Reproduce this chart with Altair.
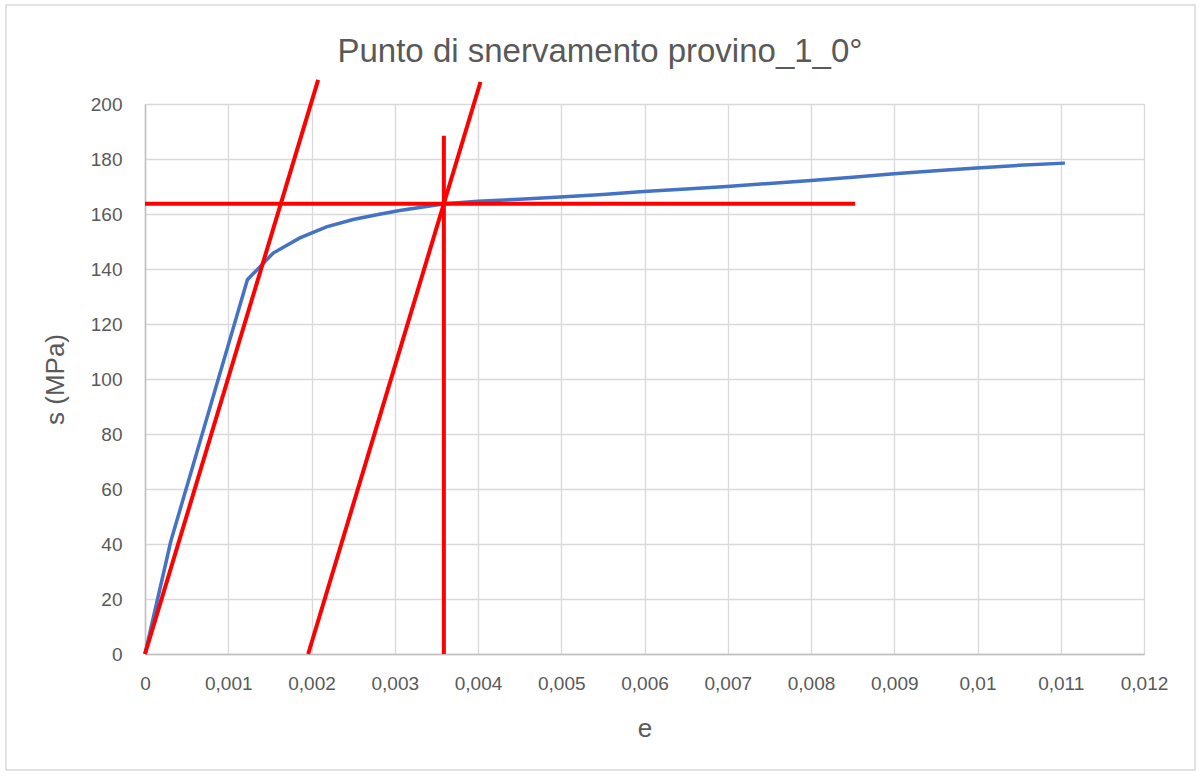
import altair as alt
import pandas as pd

# Blue curve (strain e, stress s in MPa)
curve_e = [0.0, 0.00031, 0.00123, 0.00154, 0.00186, 0.00218, 0.00250, 0.00280, 0.00306, 0.00340, 0.00360,
           0.00400, 0.00450, 0.00499, 0.00550, 0.00599, 0.00650, 0.00699, 0.00750, 0.00800, 0.00850,
           0.00900, 0.00950, 0.00999, 0.01050, 0.01105]
curve_s = [0.0, 41.0, 136.1, 145.8, 151.3, 155.3, 158.0, 159.8, 161.3, 162.8, 163.7,
           164.6, 165.4, 166.2, 167.1, 168.2, 169.1, 170.0, 171.1, 172.2, 173.4,
           174.6, 175.7, 176.7, 177.7, 178.5]

# Red construction lines (each: two end points)
line_names = ["elastic", "elastic", "offset", "offset", "vertical", "vertical", "horizontal", "horizontal"]
line_e = [0.0, 0.00208, 0.00196, 0.00403, 0.00359, 0.00359, 0.0, 0.00853]
line_s = [0.0, 208.8, 0.0, 208.0, 0.0, 188.5, 163.7, 163.7]
line_order = [0, 1, 0, 1, 0, 1, 0, 1]

x_ticks = [0, 0.001, 0.002, 0.003, 0.004, 0.005, 0.006, 0.007, 0.008, 0.009, 0.01, 0.011, 0.012]
y_ticks = [0, 20, 40, 60, 80, 100, 120, 140, 160, 180, 200]

chart_title = ["Punto di snervamento provino_1_0°"]

FONT = "Liberation Sans"
TXT = "#595959"

curve_df = pd.DataFrame({"e": curve_e, "s": curve_s, "i": list(range(len(curve_e)))})
lines_df = pd.DataFrame({"line": line_names, "e": line_e, "s": line_s, "o": line_order})

xscale = alt.Scale(domain=[0, 0.012], nice=False, zero=False)
yscale = alt.Scale(domain=[0, 200], nice=False)

xaxis = alt.Axis(values=x_ticks, title="e",
                 labelExpr="replace(format(datum.value, '.3~f'), '.', ',')",
                 grid=True, gridColor="#D9D9D9", gridWidth=1.3,
                 domainColor="#BFBFBF", domainWidth=1.5, ticks=False,
                 labelFlush=False, labelOverlap=False,
                 labelFont=FONT, labelFontSize=19, labelColor=TXT, labelPadding=20,
                 titleFont=FONT, titleFontSize=26, titleFontWeight="normal", titleColor=TXT,
                 titlePadding=22)
yaxis = alt.Axis(values=y_ticks, title="s (MPa)",
                 grid=True, gridColor="#D9D9D9", gridWidth=1.3,
                 domainColor="#BFBFBF", domainWidth=1.5, ticks=False,
                 labelFlush=False, labelOverlap=False,
                 labelFont=FONT, labelFontSize=19, labelColor=TXT, labelPadding=23,
                 titleFont=FONT, titleFontSize=26, titleFontWeight="normal", titleColor=TXT,
                 titlePadding=22)

frame = alt.Chart(pd.DataFrame({"a": [0]})).mark_rect(
    fill=None, stroke="#D9D9D9", strokeWidth=1.5, clip=False
).encode(x=alt.value(-139), x2=alt.value(1050), y=alt.value(-99), y2=alt.value(666))

title_mark = alt.Chart(pd.DataFrame({"t": chart_title})).mark_text(
    font=FONT, fontSize=33, color=TXT, align="center", baseline="alphabetic", clip=False
).encode(text="t:N", x=alt.value(455), y=alt.value(-42))

curve = alt.Chart(curve_df).mark_line(color="#4472C4", strokeWidth=3.5, clip=False).encode(
    x=alt.X("e:Q", scale=xscale, axis=xaxis),
    y=alt.Y("s:Q", scale=yscale, axis=yaxis),
    order="i:Q",
)

red = alt.Chart(lines_df).mark_line(color="#FF0000", strokeWidth=4, clip=False).encode(
    x=alt.X("e:Q", scale=xscale),
    y=alt.Y("s:Q", scale=yscale),
    detail="line:N",
    order="o:Q",
)

chart = alt.layer(frame, title_mark, curve, red).properties(
    width=999, height=550,
    autosize=alt.AutoSizeParams(type="none"),
    padding={"left": 145, "top": 104, "right": 56, "bottom": 122},
).configure_view(stroke=None).configure(background="white")

chart.save("out.html", embed_options={"renderer": "svg", "actions": False})
